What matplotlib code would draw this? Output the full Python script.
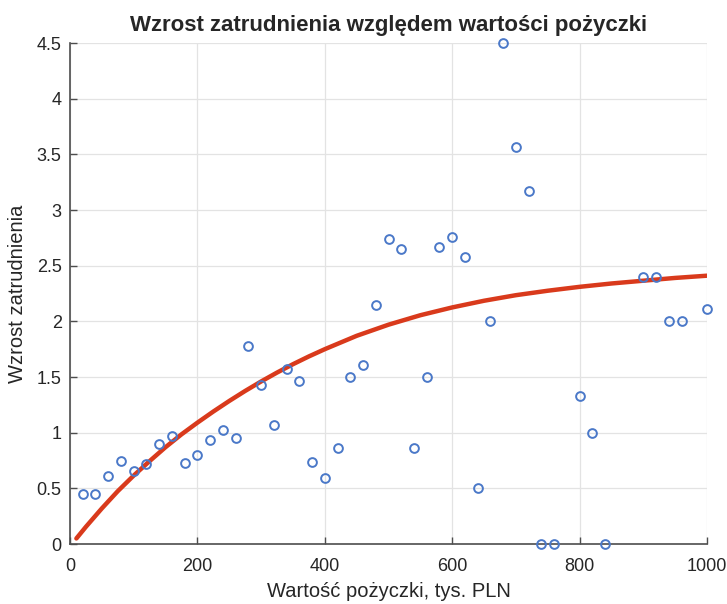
import matplotlib
matplotlib.use('Agg')
import matplotlib.pyplot as plt

# loan value (thousand PLN) vs employment growth
loan_x = [20, 40, 60, 80, 100, 120, 140, 160, 180, 200, 220, 240, 260, 280,
          300, 320, 340, 360, 380, 400, 420, 440, 460, 480, 500, 520, 540,
          560, 580, 600, 620, 640, 660, 680, 700, 720, 740, 760, 800, 820,
          840, 900, 920, 940, 960, 1000]
growth_y = [0.45, 0.45, 0.61, 0.75, 0.66, 0.72, 0.90, 0.97, 0.73, 0.80, 0.93,
            1.02, 0.95, 1.78, 1.43, 1.07, 1.57, 1.46, 0.74, 0.59, 0.86, 1.50,
            1.61, 2.15, 2.74, 2.65, 0.86, 1.50, 2.67, 2.76, 2.58, 0.50, 2.00,
            4.50, 3.57, 3.17, 0.00, 0.00, 1.33, 1.00, 0.00, 2.40, 2.40, 2.00,
            2.00, 2.11]

# fitted trend curve
fit_x = [10, 25, 50, 75, 100, 125, 150, 175, 200, 225, 250, 275, 300, 325,
         350, 375, 400, 450, 500, 550, 600, 650, 700, 750, 800, 850, 900,
         950, 1000]
fit_y = [0.05, 0.155, 0.32, 0.475, 0.615, 0.745, 0.87, 0.985, 1.09, 1.19,
         1.285, 1.375, 1.46, 1.54, 1.615, 1.685, 1.75, 1.87, 1.97, 2.055,
         2.125, 2.185, 2.235, 2.275, 2.31, 2.34, 2.365, 2.39, 2.41]

x_ticks = [0, 200, 400, 600, 800, 1000]
y_ticks = [0, 0.5, 1, 1.5, 2, 2.5, 3, 3.5, 4, 4.5]
y_labels = ['0', '0.5', '1', '1.5', '2', '2.5', '3', '3.5', '4', '4.5']

plt.rcParams['font.family'] = ['Liberation Sans', 'DejaVu Sans']

fig = plt.figure(figsize=(7.27, 6.04), dpi=100)
ax = fig.add_axes([0.0963, 0.0993, 0.8762, 0.8295])

ax.plot(fit_x, fit_y, color='#D93A1C', linewidth=3.2, solid_capstyle='round',
        solid_joinstyle='round', zorder=2)
ax.plot(loan_x, growth_y, linestyle='none', marker='o', markersize=6.3,
        markerfacecolor='none', markeredgecolor='#4A78C8', markeredgewidth=1.4,
        clip_on=False, zorder=3)

ax.set_xlim(0, 1000)
ax.set_ylim(0, 4.5)
ax.set_xticks(x_ticks)
ax.set_yticks(y_ticks)
ax.set_yticklabels(y_labels)
ax.grid(True, color='#E3E3E3', linewidth=0.9)
ax.set_axisbelow(True)

for side in ['top', 'right']:
    ax.spines[side].set_visible(False)
for side in ['left', 'bottom']:
    ax.spines[side].set_color('#4D4D4D')
    ax.spines[side].set_linewidth(1.2)
ax.tick_params(direction='in', length=5, width=1, color='#4D4D4D',
               labelsize=13, labelcolor='#262626')
ax.tick_params(axis='x', pad=10)
ax.tick_params(axis='y', pad=6)

ax.set_title('Wzrost zatrudnienia względem wartości pożyczki', fontsize=16,
             fontweight='bold', color='#262626', pad=9)
ax.set_xlabel('Wartość pożyczki, tys. PLN', fontsize=14.5, color='#262626', labelpad=5)
ax.set_ylabel('Wzrost zatrudnienia', fontsize=14.5, color='#262626', labelpad=7)

fig.savefig('out.png', dpi=100)
